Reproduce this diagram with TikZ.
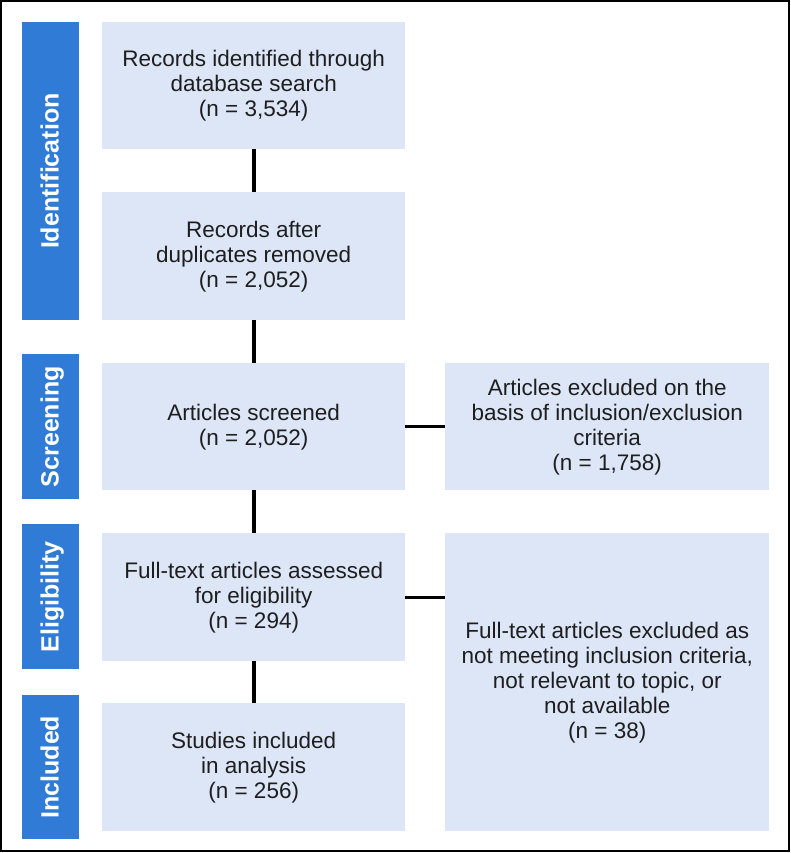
\documentclass[tikz,border=0pt]{standalone}
\usepackage{fontspec}
\setmainfont{Liberation Sans}
\definecolor{barblue}{RGB}{47,123,214}
\definecolor{boxblue}{RGB}{220,230,247}
\definecolor{txt}{RGB}{30,30,30}
\begin{document}
\begin{tikzpicture}[x=1pt,y=-1pt,
  box/.style={fill=boxblue, draw=none, align=center, text=txt,
    font=\fontsize{22.5}{25}\selectfont, inner sep=0pt, anchor=north west},
  bar/.style={fill=barblue, draw=none, inner sep=0pt, anchor=north west, minimum width=57pt},
  barlabel/.style={rotate=90, text=white, font=\fontsize{25}{28}\selectfont\bfseries,
    inner sep=0pt, text height=18pt, text depth=0pt},
  vlink/.style={draw=black, line width=4pt},
  hlink/.style={draw=black, line width=3pt}]
\useasboundingbox (0,0) rectangle (791,853);
\draw[line width=2pt] (1,1.5) rectangle (789,851);
% phase bars
\node[bar, minimum height=298pt] (p1) at (22,22) {};
\node[bar, minimum height=145pt] (p2) at (22,354) {};
\node[bar, minimum height=145pt] (p3) at (22,524) {};
\node[bar, minimum height=144pt] (p4) at (22,695) {};
\node[barlabel] (l1) at ([xshift=-1pt]p1.center) {Identification};
\node[barlabel] (l2) at ([xshift=-1pt]p2.center) {Screening};
\node[barlabel] (l3) at ([xshift=-1pt]p3.center) {Eligibility};
\node[barlabel] (l4) at ([xshift=-1pt]p4.center) {Included};
% main boxes
\node[box, minimum width=303pt, minimum height=127pt] (b1) at (102,22)
  {Records identified through\\database search\\(n = 3,534)};
\node[box, minimum width=303pt, minimum height=128pt] (b2) at (102,192)
  {Records after\\duplicates removed\\(n = 2,052)};
\node[box, minimum width=303pt, minimum height=127pt] (b3) at (102,363)
  {Articles screened\\(n = 2,052)};
\node[box, minimum width=303pt, minimum height=128pt] (b4) at (102,533)
  {Full-text articles assessed\\for eligibility\\(n = 294)};
\node[box, minimum width=303pt, minimum height=128pt] (b5) at (102,703)
  {Studies included\\in analysis\\(n = 256)};
% exclusion boxes
\node[box, minimum width=324pt, minimum height=127pt] (r1) at (445,363)
  {Articles excluded on the\\basis of inclusion/exclusion\\criteria\\(n = 1,758)};
\node[box, minimum width=324pt, minimum height=298pt] (r2) at (445,533)
  {Full-text articles excluded as\\not meeting inclusion criteria,\\not relevant to topic, or\\not available\\(n = 38)};
% connectors
\draw[vlink] (b1.south) -- (b2.north);
\draw[vlink] (b2.south) -- (b3.north);
\draw[vlink] (b3.south) -- (b4.north);
\draw[vlink] (b4.south) -- (b5.north);
\draw[hlink] (b3.east) -- (r1.west);
\draw[hlink] (b4.east) -- (b4.east -| r2.west);
\end{tikzpicture}
\end{document}
